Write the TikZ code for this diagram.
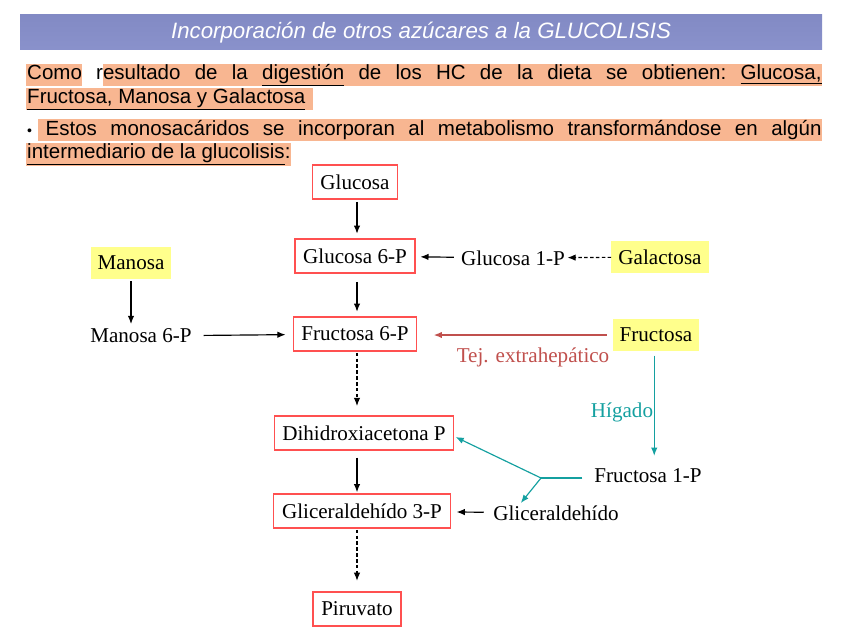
\documentclass[tikz,border=0pt]{standalone}
\usepackage{fontspec}
\setmainfont{Liberation Serif}
\newfontfamily\arialfont{Liberation Sans}
\usetikzlibrary{arrows.meta, positioning, calc}

\definecolor{boxred}{RGB}{255,80,80}
\definecolor{sugaryel}{RGB}{255,255,140}
\definecolor{hlsalmon}{RGB}{248,182,145}
\definecolor{tealarr}{RGB}{20,160,160}
\definecolor{tejred}{RGB}{192,80,77}
\definecolor{baredge}{RGB}{130,138,196}
\definecolor{barmid}{RGB}{178,186,242}

\newcommand{\bodyfont}{\arialfont\fontsize{17.5}{20}\selectfont\frenchspacing}
\newcommand{\diagfont}{\fontsize{18}{20}\selectfont}

\begin{document}
\begin{tikzpicture}[
    x=0.03cm, y=-0.03cm,
    >={Latex[length=7pt, width=5.5pt]},
    metbox/.style={
        draw=boxred, line width=1pt, font=\diagfont,
        inner xsep=7pt, minimum height=29pt
    },
    sugar/.style={fill=sugaryel, font=\diagfont, inner xsep=6pt, minimum height=27pt},
    plain/.style={font=\diagfont, inner sep=2pt},
    bodyline/.style={anchor=west, inner sep=0pt, font=\bodyfont},
    arr/.style={draw, ->, line width=1pt},
    dasharr/.style={arr, dash pattern=on 3pt off 2pt},
    tarr/.style={arr, draw=tealarr},
    tline/.style={draw=tealarr, line width=1pt},
]
\useasboundingbox (0,0) rectangle (848,636);

% ================================================================
%  TITLE BAR AND TEXT
% ================================================================
\shade[top color=baredge, middle color=barmid, bottom color=baredge!85!barmid] (20,14) rectangle (822,49);
\node[font=\arialfont\itshape\fontsize{19}{22}\selectfont, text=white] (title) at (421,33)
    {Incorporación de otros azúcares a la GLUCOLISIS};

% highlights behind the text
\fill[hlsalmon] (26,64) rectangle (82,86);
\fill[hlsalmon] (103,64) rectangle (822,86);
\fill[hlsalmon] (26,88) rectangle (313,110);
\fill[hlsalmon] (38,119) rectangle (822,141);
\fill[hlsalmon] (26,143) rectangle (291,166);

\node[bodyline] (line1) at (27,75) {\makebox[678pt][s]{Como resultado de la
    \underline{digestión} de los HC de la dieta se obtienen: \underline{Glucosa,}}};
\node[bodyline] (line2) at (27,99) {\underline{Fructosa, Manosa y Galactosa}};
\node[bodyline] (line3) at (27,130) {\makebox[678pt][s]{{\fontsize{12}{12}\selectfont\textbullet} Estos
    monosacáridos se incorporan al metabolismo transformándose en algún}};
\node[bodyline] (line4) at (27,154) {\underline{intermediario de la glucolisis}:};

% ================================================================
%  MAIN COLUMN
% ================================================================
\coordinate (col) at (357,0);

\node[metbox] (glc)  at (355,182) {Glucosa};
\node[metbox] (g6p)  at (355,256) {Glucosa 6-P};
\node[metbox] (f6p)  at (355,334) {Fructosa 6-P};
\node[metbox] (dhap) at (364,433) {Dihidroxiacetona P};
\node[metbox] (g3p)  at (362,511) {Gliceraldehído 3-P};
\node[metbox] (pir)  at (357,609) {Piruvato};

\draw[arr, shorten <=2pt, shorten >=4pt] (glc.south -| col) -- (g6p.north -| col);
\draw[arr, shorten <=7pt, shorten >=4pt] (g6p.south -| col) -- (f6p.north -| col);
\draw[dasharr, shorten <=1pt, shorten >=8pt] (f6p.south -| col) -- (dhap.north -| col);
\draw[arr, shorten <=6pt, shorten >=1pt] (dhap.south -| col) -- (g3p.north -| col);
\draw[dasharr, shorten <=1pt, shorten >=9pt] (g3p.south -| col) -- (pir.north -| col);

% ================================================================
%  SIDE SUGARS
% ================================================================
% --- galactosa ---
\node[plain]  (g1p) at (513,258) {Glucosa 1-P};
\node[sugar]  (gal) at (660,257) {Galactosa};
\draw[arr, shorten <=4pt, shorten >=4pt] (g1p) -- (g6p);
\draw[dasharr] (gal) -- (g1p);

% --- manosa ---
\node[sugar]  (man) at (131,263) {Manosa};
\node[plain]  (m6p) at (141,336) {Manosa 6-P};
\draw[arr, shorten <=2pt, shorten >=2pt] (man.south) -- (man.south |- m6p.north);
\draw[arr, shorten <=8pt, shorten >=6pt] (m6p) -- (f6p);

% --- fructosa ---
\node[sugar]  (fru) at (656,335) {Fructosa};
\node[plain]  (f1p) at (648,476) {Fructosa 1-P};
\node[plain]  (gla) at (556,513) {Gliceraldehído};
\node[plain, text=tejred]  (tej) at (533,357) {Tej. extrahepático};
\node[plain, text=tealarr] (hig) at (622,412) {Hígado};

\draw[arr, draw=tejred, shorten <=5pt, shorten >=14pt] (fru) -- (f6p.east |- fru);
\draw[tarr, shorten <=4pt, shorten >=9pt] ([xshift=-1.5pt]fru.south) -- ([xshift=-1.5pt]fru.south |- f1p.north);

\coordinate (split) at (541,478);
\draw[tline, shorten <=8pt] (f1p.west |- split) -- (split);
\draw[tarr, shorten >=1pt] (split) -- ([yshift=-3pt]dhap.east);
\draw[tarr] (split) -- ($(gla.north west)!0.23!(gla.north east)$);
\draw[arr, shorten <=6pt, shorten >=5pt] (gla) -- (g3p);

\end{tikzpicture}
\end{document}
